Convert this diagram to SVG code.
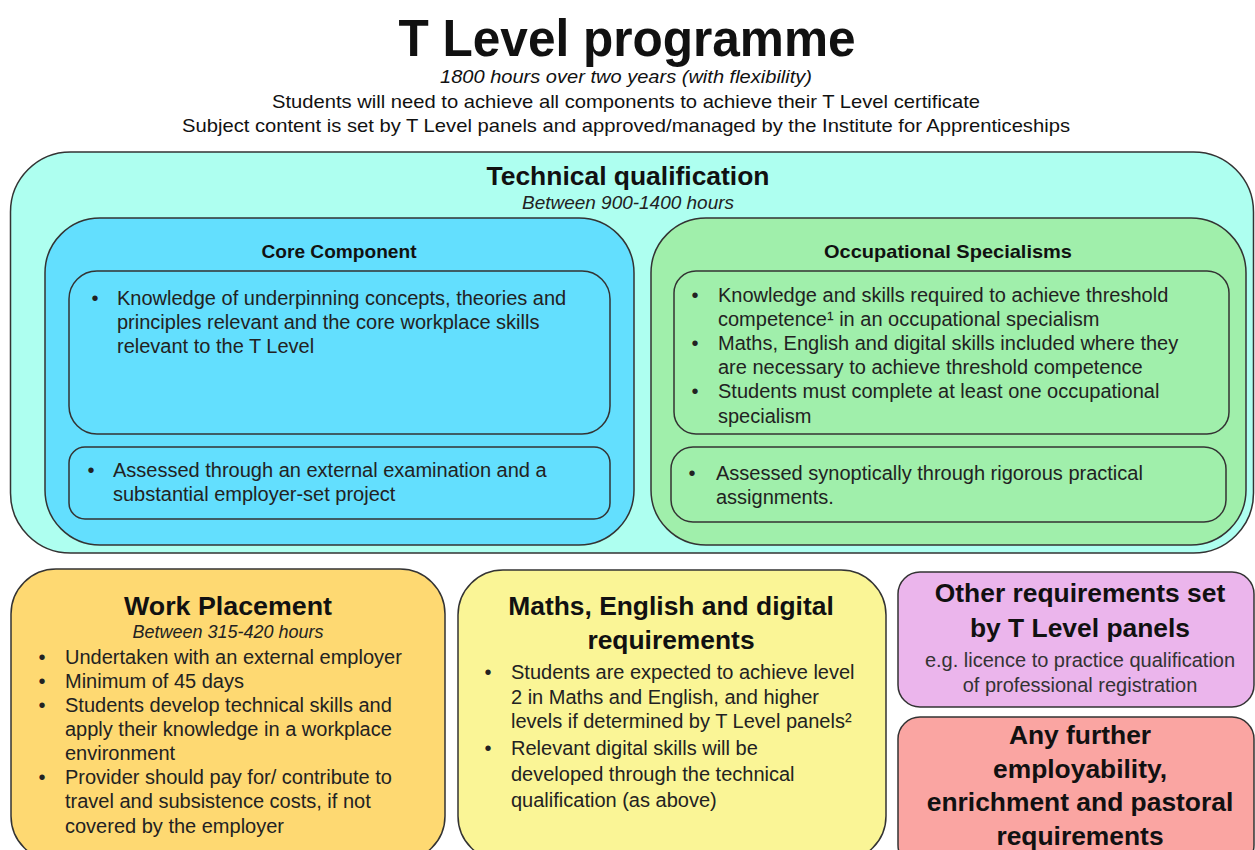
<svg xmlns="http://www.w3.org/2000/svg" width="1255" height="850" viewBox="0 0 1255 850">
  <style>
    .box { stroke: #333333; stroke-width: 1.5; }
    text { font-family: "Liberation Sans", Arial, sans-serif; fill: #111111; }
    .title { font-size: 52px; font-weight: bold; text-anchor: middle; }
    .sub { font-size: 18.5px; text-anchor: middle; }
    .it { font-style: italic; }
    .h { font-size: 26.4px; font-weight: bold; text-anchor: middle; }
    .h2 { font-size: 19px; font-weight: bold; text-anchor: middle; }
    .hrs { font-size: 18px; font-style: italic; text-anchor: middle; fill: #222222; }
    .b { font-size: 20px; fill: #222222; }
    .bul { font-size: 20px; text-anchor: middle; fill: #222222; }
    .c { font-size: 20px; text-anchor: middle; fill: #333333; }
  </style>

  <rect width="1255" height="850" fill="#ffffff"/>

  <!-- Header -->
  <g id="header">
    <text class="title" x="627" y="56" textLength="457" lengthAdjust="spacingAndGlyphs">T Level programme</text>
    <text class="sub it" x="626" y="83" textLength="372" lengthAdjust="spacingAndGlyphs">1800 hours over two years (with flexibility)</text>
    <text class="sub" x="626" y="108" textLength="708" lengthAdjust="spacingAndGlyphs">Students will need to achieve all components to achieve their T Level certificate</text>
    <text class="sub" x="626" y="132" textLength="888" lengthAdjust="spacingAndGlyphs">Subject content is set by T Level panels and approved/managed by the Institute for Apprenticeships</text>
  </g>

  <!-- Technical qualification container -->
  <g id="technical-qualification">
    <rect class="box" x="10.5" y="152" width="1243" height="401" rx="60" ry="60" fill="#aefff0"/>
    <text class="h" x="628" y="185" textLength="283" lengthAdjust="spacingAndGlyphs">Technical qualification</text>
    <text class="hrs" x="628" y="209" textLength="212" lengthAdjust="spacingAndGlyphs">Between 900-1400 hours</text>
  </g>

  <!-- Core component -->
  <g id="core-component">
    <rect class="box" x="45" y="218" width="589" height="327" rx="55" ry="55" fill="#63dffe"/>
    <text class="h2" x="339" y="258" textLength="155" lengthAdjust="spacingAndGlyphs">Core Component</text>
    <rect class="box" x="69" y="271" width="541" height="163" rx="28" ry="28" fill="#63dffe"/>
    <text class="bul" x="95" y="305">•</text>
    <text class="b" x="117" y="305">Knowledge of underpinning concepts, theories and</text>
    <text class="b" x="117" y="329">principles relevant and the core workplace skills</text>
    <text class="b" x="117" y="353">relevant to the T Level</text>
    <rect class="box" x="69" y="447" width="541" height="72" rx="16" ry="16" fill="#63dffe"/>
    <text class="bul" x="91" y="477">•</text>
    <text class="b" x="113" y="477">Assessed through an external examination and a</text>
    <text class="b" x="113" y="501">substantial employer-set project</text>
  </g>

  <!-- Occupational specialisms -->
  <g id="occupational-specialisms">
    <rect class="box" x="651" y="218" width="595" height="327" rx="55" ry="55" fill="#a0efab"/>
    <text class="h2" x="948" y="258" textLength="248" lengthAdjust="spacingAndGlyphs">Occupational Specialisms</text>
    <rect class="box" x="674" y="271" width="555" height="163" rx="22" ry="22" fill="#a0efab"/>
    <text class="bul" x="695" y="302">•</text>
    <text class="b" x="718" y="302">Knowledge and skills required to achieve threshold</text>
    <text class="b" x="718" y="326">competence¹ in an occupational specialism</text>
    <text class="bul" x="695" y="350">•</text>
    <text class="b" x="718" y="350">Maths, English and digital skills included where they</text>
    <text class="b" x="718" y="374">are necessary to achieve threshold competence</text>
    <text class="bul" x="695" y="398">•</text>
    <text class="b" x="718" y="398">Students must complete at least one occupational</text>
    <text class="b" x="718" y="423">specialism</text>
    <rect class="box" x="671" y="447" width="555" height="75" rx="22" ry="22" fill="#a0efab"/>
    <text class="bul" x="692" y="480">•</text>
    <text class="b" x="716" y="480">Assessed synoptically through rigorous practical</text>
    <text class="b" x="716" y="504">assignments.</text>
  </g>

  <!-- Work placement -->
  <g id="work-placement">
    <rect class="box" x="11" y="569" width="434" height="292" rx="45" ry="45" fill="#fed972"/>
    <text class="h" x="228" y="615" textLength="208" lengthAdjust="spacingAndGlyphs">Work Placement</text>
    <text class="hrs" x="228" y="638">Between 315-420 hours</text>
    <text class="bul" x="42" y="664">•</text>
    <text class="b" x="65" y="664">Undertaken with an external employer</text>
    <text class="bul" x="42" y="688">•</text>
    <text class="b" x="65" y="688">Minimum of 45 days</text>
    <text class="bul" x="42" y="712">•</text>
    <text class="b" x="65" y="712">Students develop technical skills and</text>
    <text class="b" x="65" y="736">apply their knowledge in a workplace</text>
    <text class="b" x="65" y="760">environment</text>
    <text class="bul" x="42" y="784">•</text>
    <text class="b" x="65" y="784">Provider should pay for/ contribute to</text>
    <text class="b" x="65" y="808">travel and subsistence costs, if not</text>
    <text class="b" x="65" y="833">covered by the employer</text>
  </g>

  <!-- Maths, English and digital -->
  <g id="maths-english-digital">
    <rect class="box" x="458" y="570" width="428" height="291" rx="45" ry="45" fill="#faf596"/>
    <text class="h" x="671" y="615">Maths, English and digital</text>
    <text class="h" x="671" y="649">requirements</text>
    <text class="bul" x="488" y="679">•</text>
    <text class="b" x="511" y="679">Students are expected to achieve level</text>
    <text class="b" x="511" y="704">2 in Maths and English, and higher</text>
    <text class="b" x="511" y="728">levels if determined by T Level panels²</text>
    <text class="bul" x="488" y="755">•</text>
    <text class="b" x="511" y="755">Relevant digital skills will be</text>
    <text class="b" x="511" y="781">developed through the technical</text>
    <text class="b" x="511" y="807">qualification (as above)</text>
  </g>

  <!-- Other requirements -->
  <g id="other-requirements">
    <rect class="box" x="898" y="572" width="356" height="135" rx="22" ry="22" fill="#ebb5ec"/>
    <text class="h" x="1080" y="602">Other requirements set</text>
    <text class="h" x="1080" y="637">by T Level panels</text>
    <text class="c" x="1080" y="667">e.g. licence to practice qualification</text>
    <text class="c" x="1080" y="692">of professional registration</text>
  </g>

  <!-- Further requirements -->
  <g id="further-requirements">
    <rect class="box" x="898" y="717" width="356" height="150" rx="22" ry="22" fill="#faa5a2"/>
    <text class="h" x="1080" y="744">Any further</text>
    <text class="h" x="1080" y="778">employability,</text>
    <text class="h" x="1080" y="811">enrichment and pastoral</text>
    <text class="h" x="1080" y="845">requirements</text>
  </g>

  <!-- No connectors in this layout -->
  <g id="connectors"/>
</svg>
